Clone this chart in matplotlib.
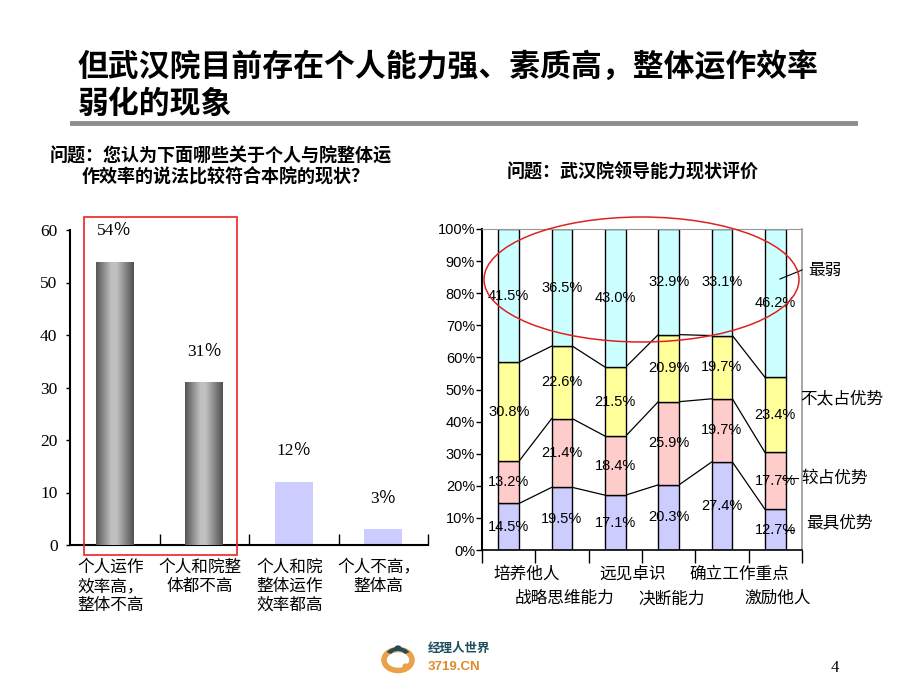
import numpy as np
import matplotlib
matplotlib.use("Agg")
import matplotlib.pyplot as plt
from matplotlib.patches import Ellipse, Circle, Wedge

plt.rcParams['font.family'] = ['Noto Sans CJK SC', 'DejaVu Sans']

# ---- data ----
title = "但武汉院目前存在个人能力强、素质高，整体运作效率\n弱化的现象"
q_left = "问题：您认为下面哪些关于个人与院整体运"
q_left2 = "作效率的说法比较符合本院的现状？"
q_right = "问题：武汉院领导能力现状评价"

left_cats = ["个人运作\n效率高，\n整体不高", "个人和院整\n体都不高", "个人和院\n整体运作\n效率都高", "个人不高，\n整体高"]
left_vals = [54, 31, 12, 3]
left_labels = ["54％", "31％", "12％", "3％"]

right_cats = ["培养他人", "战略思维能力", "远见卓识", "决断能力", "确立工作重点", "激励他人"]
series_names = ["最具优势", "较占优势", "不太占优势", "最弱"]
best = [14.5, 19.5, 17.1, 20.3, 27.4, 12.7]
good = [13.2, 21.4, 18.4, 25.9, 19.7, 17.7]
weak_adv = [30.8, 22.6, 21.5, 20.9, 19.7, 23.4]
weakest = [41.5, 36.5, 43.0, 32.9, 33.1, 46.2]
series = [best, good, weak_adv, weakest]
series_colors = ["#CCCCFF", "#FFCCCC", "#FFFF99", "#CCFFFF"]

fig = plt.figure(figsize=(9.2, 6.9), dpi=100)

# title + rule
fig.text(78 / 920, 1 - 85 / 690, title, fontsize=22.2, fontweight='bold', ha='left', va='center',
         linespacing=1.2)
fig.add_artist(plt.Line2D([72 / 920, 855 / 920], [1 - 123 / 690] * 2, color='#8c8c8c', lw=3.5))

fig.text(50 / 920, 1 - 156 / 690, q_left, fontsize=13, fontweight='bold', ha='left', va='center')
fig.text(82 / 920, 1 - 177 / 690, q_left2, fontsize=13, fontweight='bold', ha='left', va='center')
fig.text(507 / 920, 1 - 172 / 690, q_right, fontsize=13, fontweight='bold', ha='left', va='center')

# ---- left chart ----
ax = fig.add_axes([70 / 920, 1 - 545 / 690, 358 / 920, 315 / 690])
x = np.arange(len(left_vals))
bars = ax.bar(x, left_vals, width=0.42, color=["#888888", "#888888", "#CCCCFF", "#CCCCFF"], zorder=2)
# cylinder-like gray gradient on the first two bars
grad_pos = np.linspace(0, 1, 64)
grad = np.interp(grad_pos, [0, 0.4, 0.55, 1], [0.34, 0.75, 0.75, 0.32])
for b in bars[:2]:
    im = ax.imshow(grad[np.newaxis, :], cmap='gray', vmin=0, vmax=1, aspect='auto',
                   extent=[b.get_x(), b.get_x() + b.get_width(), 0, b.get_height()], zorder=3)
    im.set_clip_path(b)
for xi, v, lab in zip(x, left_vals, left_labels):
    ax.annotate(lab, (xi, v), xytext=(0, 22), textcoords='offset points', ha='center', va='center',
                fontsize=12.5, family=['Liberation Serif', 'Noto Sans CJK SC'])
ax.set_xlim(-0.5, 3.5)
ax.set_ylim(0, 60)
ax.set_yticks(range(0, 61, 10))
ax.set_yticklabels([str(v) for v in range(0, 61, 10)], family='Liberation Serif', fontsize=12.5)
ax.tick_params(axis='y', direction='out', length=3, width=1, pad=6)
ax.set_xticks([0.5, 1.5, 2.5, 3.5])
ax.set_xticklabels([])
ax.tick_params(axis='x', direction='in', length=8, width=1)
for s in ['top', 'right']:
    ax.spines[s].set_visible(False)
for s in ['left', 'bottom']:
    ax.spines[s].set_linewidth(1.5)
for xi, lab in zip(x, left_cats):
    ax.text(xi - 0.05, -0.045, lab, transform=ax.get_xaxis_transform(), ha='center', va='top',
            fontsize=12, linespacing=1.15)
ax.set_xlim(-0.5, 3.5)
ax.set_ylim(0, 60)

# red highlight box
fig.add_artist(plt.Rectangle((84 / 920, 1 - 555 / 690), 153 / 920, 338 / 690, fill=False,
                             edgecolor='#ee2222', lw=1.2, transform=fig.transFigure))

# ---- right chart ----
ax2 = fig.add_axes([482 / 920, 1 - 550 / 690, 320 / 920, 321 / 690])
xr = np.arange(len(right_cats))
w = 0.39
bottom = np.zeros(len(right_cats))
tops = []
for vals, col in zip(series, series_colors):
    vals = np.array(vals)
    ax2.bar(xr, vals, width=w, bottom=bottom, color=col, edgecolor='black', lw=1, zorder=2)
    for xi, b0, v in zip(xr, bottom, vals):
        ax2.text(xi, b0 + v / 2, f"{v:.1f}%", ha='center', va='center', fontsize=10.5,
                 family='Liberation Sans', zorder=4)
    bottom = bottom + vals
    tops.append(bottom.copy())
# series lines connecting stacks
for t in tops[:3]:
    for i in range(len(xr) - 1):
        ax2.plot([xr[i] + w / 2, xr[i + 1] - w / 2], [t[i], t[i + 1]], color='black', lw=0.9, zorder=1)
ax2.set_xlim(-0.5, 5.5)
ax2.set_ylim(0, 100)
ax2.set_yticks(range(0, 101, 10))
ax2.set_yticklabels([f"{v}%" for v in range(0, 101, 10)], family='Liberation Sans', fontsize=10.5)
ax2.tick_params(axis='y', direction='out', length=4, width=1, pad=1)
ax2.set_xticks(np.arange(-0.5, 6, 1))
ax2.set_xticklabels([])
ax2.tick_params(axis='x', direction='out', length=9, width=1)
ax2.spines['left'].set_linewidth(1.5)
ax2.spines['bottom'].set_linewidth(1.2)
ax2.spines['top'].set_color('#999999')
ax2.spines['right'].set_color('#999999')
ax2.spines['right'].set_linewidth(1.2)
for xi, lab in zip(xr, right_cats):
    if xi % 2 == 0:
        ax2.text(xi + 0.33, -0.05, lab, transform=ax2.get_xaxis_transform(), ha='center', va='top', fontsize=12)
    else:
        ax2.text(xi + 0.05, -0.125, lab, transform=ax2.get_xaxis_transform(), ha='center', va='top', fontsize=12)

# legend-like labels with leader lines (figure pixels)
def px(xp, yp):
    return xp / 920, 1 - yp / 690

fig.text(*px(808, 270), series_names[3], fontsize=12, ha='left', va='center')
fig.add_artist(plt.Line2D(*zip(px(780, 279), px(802, 270)), color='black', lw=0.8))
fig.text(*px(800, 399), series_names[2], fontsize=12, ha='left', va='center')
fig.text(*px(801, 478), series_names[1], fontsize=12, ha='left', va='center')
fig.add_artist(plt.Line2D(*zip(px(782, 478), px(798, 478)), color='black', lw=0.8))
fig.text(*px(806, 523), series_names[0], fontsize=12, ha='left', va='center')
fig.add_artist(plt.Line2D(*zip(px(785, 530), px(794, 530)), color='black', lw=0.8))

# red ellipse around the weakest segments
fig.add_artist(Ellipse(px(641.5, 279.5), 315 / 920, 125 / 690, fill=False, edgecolor='#dd2222',
                       lw=1.1, transform=fig.transFigure, zorder=5))

# ---- footer: logo and page number ----
fig.add_artist(Circle(px(398, 660), 14 / 920, fill=False, edgecolor='#e8a24a', lw=4,
                      transform=fig.transFigure))
fig.add_artist(Wedge(px(398, 657), 13 / 920, 30, 150, width=5 / 920, facecolor='#1f4e5f',
                     transform=fig.transFigure))
fig.add_artist(Circle(px(398, 648), 3.5 / 920, facecolor='#1f4e5f', transform=fig.transFigure))
fig.add_artist(Circle(px(406, 666), 3.5 / 920, facecolor='#e8a24a', transform=fig.transFigure))
fig.text(*px(428, 648), "经理人世界", fontsize=9, fontweight='bold', color='#1f4e5f', ha='left', va='center')
fig.text(*px(428, 667), "3719.CN", fontsize=9.5, fontweight='bold', color='#e08a2c', ha='left', va='center',
         family='Liberation Sans')
fig.text(*px(835, 668), "4", fontsize=12, family='Liberation Serif', ha='center', va='center')

fig.savefig("out.png", dpi=100)
